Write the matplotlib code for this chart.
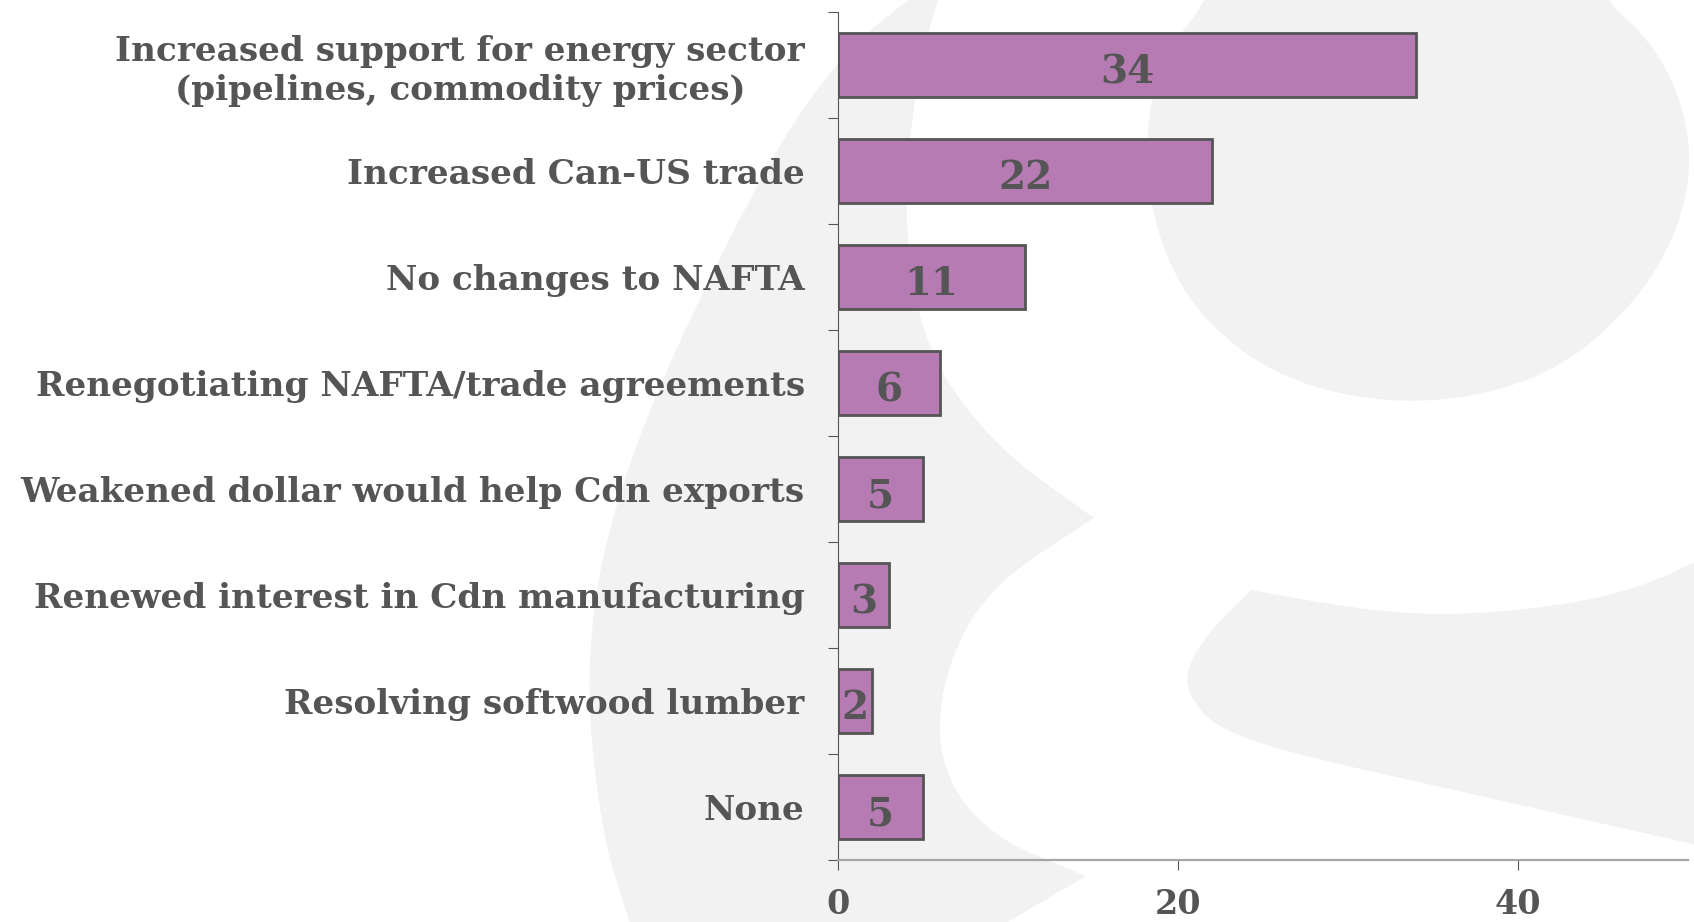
import numpy as np
import matplotlib
matplotlib.use("Agg")
import matplotlib.pyplot as plt
from matplotlib.path import Path
from matplotlib.patches import PathPatch

# survey answers, top to bottom
categorias = [
    "Increased support for energy sector\n(pipelines, commodity prices)",
    "Increased Can-US trade",
    "No changes to NAFTA",
    "Renegotiating NAFTA/trade agreements",
    "Weakened dollar would help Cdn exports",
    "Renewed interest in Cdn manufacturing",
    "Resolving softwood lumber",
    "None",
]
respostas = [34, 22, 11, 6, 5, 3, 2, 5]
ticks_x = [0, 20, 40]

cor_barra = "#b67bb2"
cor_texto = "#555555"
cor_fundo = "#f2f2f2"

plt.rcParams["font.family"] = ["DejaVu Serif"]
plt.rcParams["font.weight"] = "bold"

W, H = 1694, 922
fig = plt.figure(figsize=(W / 100, H / 100), dpi=100)


def forma(pontos):
    # smooth closed outline (pixels, y down); a repeated point keeps a sharp corner
    pts = [(x / W, 1 - y / H) for x, y in pontos]
    n = len(pts)
    meio = lambda a, b: ((a[0] + b[0]) / 2, (a[1] + b[1]) / 2)
    verts = [meio(pts[-1], pts[0])]
    codes = [Path.MOVETO]
    for i in range(n):
        verts += [pts[i], meio(pts[i], pts[(i + 1) % n])]
        codes += [Path.CURVE3, Path.CURVE3]
    verts.append(verts[0])
    codes.append(Path.CLOSEPOLY)
    p = PathPatch(Path(verts, codes), facecolor=cor_fundo, edgecolor="none",
                  transform=fig.transFigure, zorder=-5)
    fig.add_artist(p)


# big watermark letter behind the chart
forma([(948, -30), (948, -30), (830, 60), (728, 235), (622, 470), (584, 647),
       (599, 824), (629, 922), (640, 950), (640, 950), (960, 950), (960, 950),
       (1086, 876), (1086, 876), (987, 835), (938, 765), (942, 676), (987, 588),
       (1094, 518), (1094, 518), (995, 447), (926, 353), (904, 235), (911, 118),
       (928, 30)])
forma([(1215, -60), (1215, -10), (1160, 60), (1144, 140), (1155, 235), (1200, 320),
       (1290, 385), (1420, 407), (1550, 378), (1640, 300), (1685, 215),
       (1692, 133), (1660, 50), (1595, -10), (1595, -60), (1595, -60)])
forma([(1251, 590), (1251, 590), (1350, 608), (1441, 616), (1555, 607),
       (1640, 588), (1710, 555), (1710, 555), (1710, 848), (1710, 848),
       (1441, 787), (1289, 753), (1214, 727), (1187, 693), (1187, 667),
       (1210, 630)])

ax = fig.add_axes([838 / W, 1 - 860 / H, 850 / W, 848 / H])
ax.set_facecolor("none")

y = np.arange(len(categorias))
ax.barh(y, respostas, height=0.6, color=cor_barra, edgecolor=cor_texto,
        linewidth=2, zorder=3)

for i, v in enumerate(respostas):
    ax.text(v / 2, i + 0.07, str(v), ha="center", va="center", fontsize=28,
            fontweight="bold", color=cor_texto, zorder=4)

ax.set_xlim(0, 50)
ax.set_ylim(len(categorias) - 0.5, -0.5)

ax.set_yticks(y)
ax.set_yticklabels(categorias, fontsize=24.7, color=cor_texto)
for t in ax.get_yticklabels():
    t.set_multialignment("center")
    t.set_linespacing(1.2)
ax.set_yticks(np.arange(len(categorias) + 1) - 0.5, minor=True)
ax.tick_params(axis="y", which="major", length=0, pad=24)
ax.tick_params(axis="y", which="minor", length=7.5, width=0.8, color=cor_texto)

ax.set_xticks(ticks_x)
ax.set_xticklabels([str(t) for t in ticks_x], fontsize=24, color=cor_texto)
ax.tick_params(axis="x", length=7.5, width=0.8, color=cor_texto, pad=13)

ax.spines["top"].set_visible(False)
ax.spines["right"].set_visible(False)
ax.spines["left"].set_color(cor_texto)
ax.spines["left"].set_linewidth(0.8)
ax.spines["bottom"].set_color("#a6a6a6")
ax.spines["bottom"].set_linewidth(1.6)

fig.savefig("out.png", dpi=100)
